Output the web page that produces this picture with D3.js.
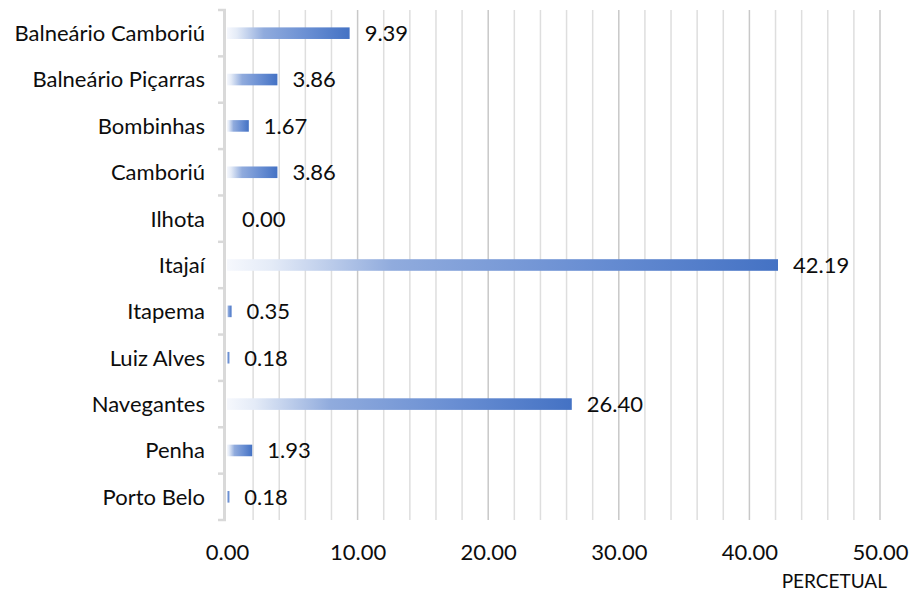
<!DOCTYPE html>
<html>
<head>
<meta charset="utf-8">
<script src="https://cdn.jsdelivr.net/npm/d3@7"></script>
<style>
  html, body { margin: 0; padding: 0; background: #fff; }
  svg { display: block; }
  text { font-family: Lato, "Open Sans", sans-serif; fill: #0d0d0d; }
</style>
</head>
<body>
<svg id="chart" width="909" height="591"></svg>
<script>
// Share (%) per municipality
const categories = ["Balneário Camboriú", "Balneário Piçarras", "Bombinhas", "Camboriú", "Ilhota",
  "Itajaí", "Itapema", "Luiz Alves", "Navegantes", "Penha", "Porto Belo"];
const values = [9.39, 3.86, 1.67, 3.86, 0.00, 42.19, 0.35, 0.18, 26.40, 1.93, 0.18];
const xTicks = [0, 10, 20, 30, 40, 50];
const xMinorTicks = d3.range(0, 50.001, 2);
const axisTitle = "PERCETUAL";

const plot = { left: 227, right: 880, top: 10, bottom: 520 };
const fontSize = 22;

const svg = d3.select("#chart");

const x = d3.scaleLinear().domain([0, 50]).range([plot.left, plot.right]);
const y = d3.scaleBand().domain(categories).range([plot.top, plot.bottom]).paddingInner(0).paddingOuter(0);

// bar fill: light at the base, full blue at the end
const defs = svg.append("defs");
const grad = defs.append("linearGradient").attr("id", "barFill")
  .attr("x1", "0%").attr("x2", "100%").attr("y1", "0%").attr("y2", "0%");
[[0, "#f6f8fd"], [0.08, "#e4ebf7"], [0.3, "#90abdd"], [0.65, "#6a8fd3"], [1, "#4472c4"]]
  .forEach(([o, c]) => grad.append("stop").attr("offset", o).attr("stop-color", c));

// vertical gridlines: minor every 2, major every 10
const grid = svg.append("g");
grid.selectAll("line.minor").data(xMinorTicks.filter(v => v > 0 && v % 10 !== 0)).join("line")
  .attr("class", "minor")
  .attr("x1", d => x(d)).attr("x2", d => x(d))
  .attr("y1", plot.top).attr("y2", plot.bottom)
  .attr("stroke", "#dedede").attr("stroke-width", 1.5);
grid.selectAll("line.major").data(xTicks.filter(v => v > 0)).join("line")
  .attr("class", "major")
  .attr("x1", d => x(d)).attr("x2", d => x(d))
  .attr("y1", plot.top).attr("y2", plot.bottom)
  .attr("stroke", "#c8c8c8").attr("stroke-width", 1.5);

// category axis
const yAxis = svg.append("g");
yAxis.append("line")
  .attr("x1", plot.left - 2.5).attr("x2", plot.left - 2.5)
  .attr("y1", plot.top).attr("y2", plot.bottom + 1)
  .attr("stroke", "#d9d9d9").attr("stroke-width", 3);
const boundaries = categories.map(c => y(c)).concat([plot.bottom]);
yAxis.selectAll("line.tick").data(boundaries).join("line")
  .attr("class", "tick")
  .attr("x1", plot.left - 9).attr("x2", plot.left - 1)
  .attr("y1", d => d).attr("y2", d => d)
  .attr("stroke", "#d9d9d9").attr("stroke-width", 2.5);
yAxis.selectAll("text").data(categories).join("text")
  .attr("x", 205)
  .attr("y", d => y(d) + y.bandwidth() / 2)
  .attr("dy", "0.36em")
  .attr("text-anchor", "end")
  .attr("font-size", fontSize)
  .text(d => d);

// bars
const barH = y.bandwidth() * 0.25;
svg.append("g").selectAll("rect").data(values).join("rect")
  .attr("x", x(0))
  .attr("y", (d, i) => y(categories[i]) + (y.bandwidth() - barH) / 2)
  .attr("width", d => x(d) - x(0))
  .attr("height", barH)
  .attr("fill", "url(#barFill)");

// value labels
svg.append("g").selectAll("text").data(values).join("text")
  .attr("x", d => x(d) + 15)
  .attr("y", (d, i) => y(categories[i]) + y.bandwidth() / 2)
  .attr("dy", "0.36em")
  .attr("font-size", fontSize)
  .text(d => d3.format(".2f")(d));

// value axis labels
const xAxis = svg.append("g")
  .attr("transform", `translate(0,${plot.bottom})`)
  .call(d3.axisBottom(x).tickValues(xTicks).tickFormat(d3.format(".2f")).tickSize(0).tickPadding(24));
xAxis.select(".domain").remove();
xAxis.selectAll("text")
  .attr("font-size", fontSize)
  .attr("font-family", "Lato, 'Open Sans', sans-serif")
  .attr("fill", "#0d0d0d");

svg.append("text")
  .attr("x", 887).attr("y", 588)
  .attr("text-anchor", "end")
  .attr("font-size", 19)
  .text(axisTitle);
</script>
</body>
</html>
